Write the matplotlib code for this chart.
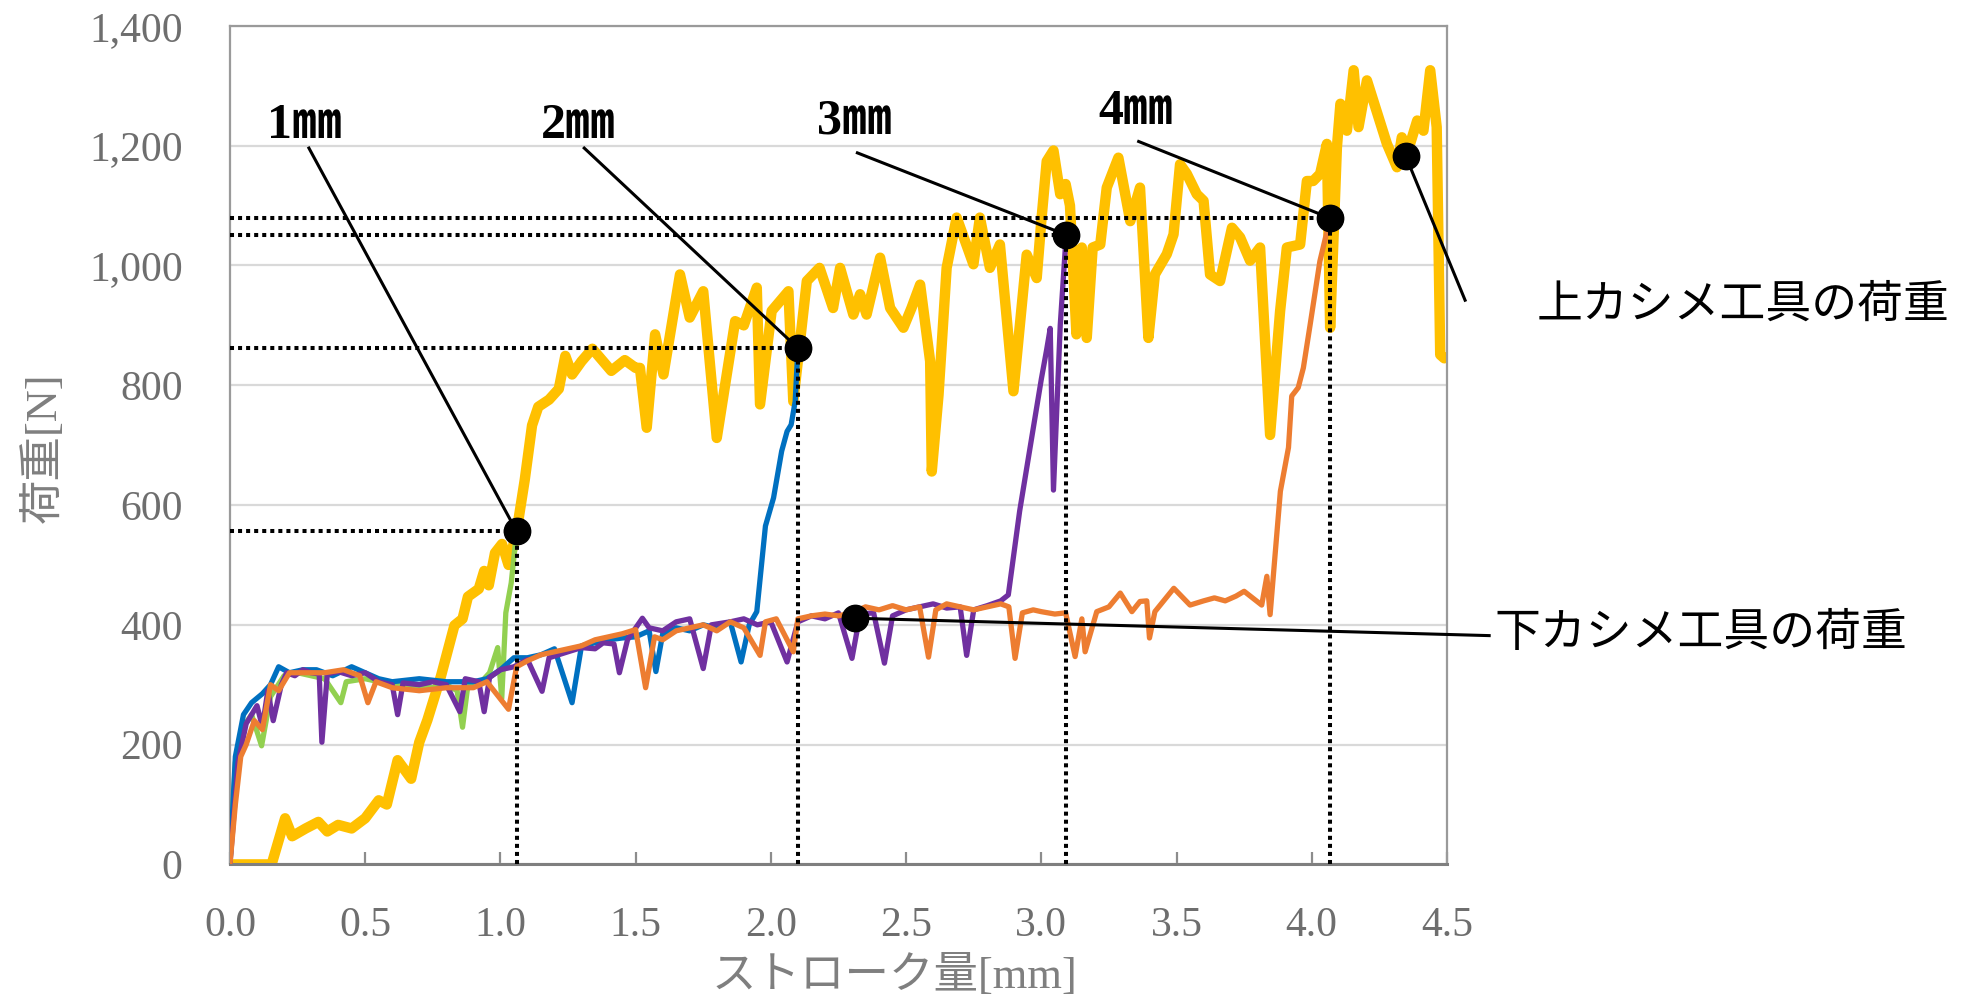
import matplotlib
matplotlib.use("Agg")
import matplotlib.pyplot as plt

plt.rcParams['font.family'] = ['Liberation Serif', 'Noto Sans CJK JP']

# ---------------- data ----------------
# upper crimping tool load (gold)
upper_x = [0, 0.05, 0.154, 0.204, 0.23, 0.28, 0.327, 0.36, 0.40, 0.45, 0.50, 0.55, 0.58, 0.62, 0.67,
           0.70, 0.73, 0.78, 0.83, 0.86, 0.88, 0.92, 0.94, 0.957, 0.98, 1.006, 1.03, 1.06, 1.09, 1.117,
           1.14, 1.18, 1.216, 1.24, 1.265, 1.30, 1.34, 1.41, 1.46, 1.50, 1.516, 1.541, 1.572, 1.603,
           1.664, 1.70, 1.75, 1.80, 1.868, 1.90, 1.948, 1.96, 2.003, 2.065, 2.083, 2.133, 2.18, 2.23,
           2.256, 2.305, 2.33, 2.354, 2.404, 2.441, 2.49, 2.52, 2.552, 2.589, 2.595, 2.62, 2.65, 2.687,
           2.749, 2.773, 2.81, 2.847, 2.897, 2.946, 2.983, 3.00, 3.02, 3.045, 3.07, 3.09, 3.106, 3.13,
           3.15, 3.168, 3.19, 3.218, 3.242, 3.285, 3.329, 3.365, 3.396, 3.42, 3.464, 3.489, 3.513,
           3.538, 3.575, 3.60, 3.624, 3.661, 3.705, 3.735, 3.772, 3.809, 3.846, 3.883, 3.908, 3.957,
           3.982, 4.005, 4.031, 4.056, 4.068, 4.093, 4.106, 4.13, 4.155, 4.173, 4.204, 4.278, 4.315,
           4.333, 4.352, 4.39, 4.413, 4.438, 4.462, 4.475, 4.49]
upper_y = [0, 0, 0, 77, 47, 60, 71, 55, 66, 60, 77, 107, 100, 174, 143,
           204, 241, 314, 399, 410, 447, 460, 490, 466, 520, 535, 500, 556, 642, 733,
           764, 776, 794, 849, 818, 840, 861, 824, 842, 829, 829, 729, 885, 818,
           985, 913, 957, 712, 907, 900, 963, 768, 924, 957, 773, 974, 996, 929,
           996, 918, 952, 918, 1013, 929, 896, 929, 968, 840, 656, 784, 996, 1080,
           1002, 1080, 996, 1035, 790, 1018, 979, 1074, 1174, 1192, 1119, 1136, 1100, 885,
           1030, 879, 1030, 1035, 1130, 1180, 1074, 1130, 879, 985, 1019, 1052, 1169,
           1153, 1119, 1108, 985, 974, 1063, 1047, 1008, 1030, 717, 924, 1030, 1035,
           1141, 1141, 1153, 1203, 896, 1197, 1270, 1225, 1326, 1231, 1309, 1203, 1164,
           1214, 1186, 1242, 1225, 1326, 1231, 851, 845]

# lower crimping tool load, 1 mm test (green)
green_x = [0, 0.02, 0.05, 0.08, 0.117, 0.15, 0.20, 0.25, 0.30, 0.35, 0.41, 0.43, 0.50, 0.60, 0.70,
           0.75, 0.80, 0.84, 0.86, 0.88, 0.93, 0.96, 0.99, 1.005, 1.02, 1.04, 1.06]
green_y = [0, 170, 230, 250, 198, 280, 315, 320, 315, 310, 270, 305, 310, 300, 298,
           295, 300, 290, 229, 300, 305, 320, 362, 277, 420, 470, 556]

# 2 mm test (blue)
blue_x = [0, 0.02, 0.05, 0.08, 0.12, 0.15, 0.18, 0.22, 0.27, 0.32, 0.38, 0.45, 0.50, 0.55, 0.60,
          0.70, 0.80, 0.90, 0.95, 1.00, 1.05, 1.10, 1.15, 1.20, 1.265, 1.30, 1.35, 1.40, 1.45, 1.50,
          1.55, 1.575, 1.60, 1.65, 1.70, 1.75, 1.80, 1.85, 1.89, 1.92, 1.948, 1.98, 2.01, 2.04,
          2.06, 2.075, 2.09, 2.10]
blue_y = [0, 180, 250, 270, 285, 300, 330, 320, 325, 325, 315, 330, 320, 310, 305,
          310, 305, 305, 310, 325, 345, 345, 350, 360, 270, 365, 370, 375, 378, 380,
          390, 322, 385, 395, 390, 400, 395, 405, 338, 400, 422, 565, 612, 690,
          723, 734, 773, 862]

# 3 mm test (purple)
purple_x = [0, 0.03, 0.06, 0.08, 0.10, 0.12, 0.14, 0.16, 0.19, 0.21, 0.24, 0.27, 0.30, 0.33, 0.34,
            0.36, 0.40, 0.45, 0.50, 0.55, 0.60, 0.62, 0.64, 0.70, 0.75, 0.80, 0.85, 0.87, 0.92,
            0.94, 0.96, 1.00, 1.05, 1.10, 1.154, 1.18, 1.25, 1.30, 1.35, 1.38, 1.42, 1.44, 1.47,
            1.525, 1.55, 1.60, 1.65, 1.70, 1.75, 1.78, 1.85, 1.90, 1.95, 2.00, 2.06, 2.10, 2.15,
            2.20, 2.25, 2.30, 2.33, 2.38, 2.42, 2.45, 2.50, 2.55, 2.60, 2.65, 2.70, 2.724, 2.75,
            2.80, 2.85, 2.878, 2.92, 2.96, 3.00, 3.02, 3.033, 3.045, 3.07, 3.092]
purple_y = [0, 170, 235, 250, 265, 230, 290, 240, 300, 320, 315, 325, 320, 318, 204,
            318, 322, 315, 320, 305, 300, 250, 303, 300, 305, 300, 255, 310, 305,
            255, 312, 325, 330, 342, 289, 345, 355, 362, 360, 370, 368, 320, 375,
            411, 395, 390, 405, 410, 327, 400, 405, 410, 400, 405, 338, 405, 415,
            410, 420, 344, 418, 420, 336, 415, 425, 430, 435, 428, 430, 349, 425,
            432, 440, 450, 590, 700, 810, 860, 895, 625, 900, 1051]

# 4 mm test (orange)
orange_x = [0, 0.02, 0.04, 0.06, 0.09, 0.12, 0.15, 0.18, 0.22, 0.25, 0.30, 0.35, 0.42, 0.48, 0.51,
            0.54, 0.60, 0.70, 0.80, 0.90, 0.95, 1.03, 1.06, 1.10, 1.15, 1.20, 1.30, 1.35, 1.40,
            1.45, 1.50, 1.537, 1.57, 1.60, 1.65, 1.70, 1.75, 1.80, 1.85, 1.90, 1.96, 1.98, 2.02,
            2.083, 2.10, 2.15, 2.20, 2.25, 2.30, 2.35, 2.40, 2.45, 2.50, 2.55, 2.583, 2.61, 2.65,
            2.70, 2.75, 2.80, 2.85, 2.88, 2.903, 2.93, 2.97, 3.00, 3.05, 3.09, 3.125, 3.15, 3.162,
            3.205, 3.25, 3.292, 3.335, 3.365, 3.39, 3.40, 3.42, 3.49, 3.55, 3.60, 3.64, 3.68, 3.72,
            3.75, 3.815, 3.834, 3.846, 3.884, 3.914, 3.926, 3.95, 3.969, 3.994, 4.03, 4.068]
orange_y = [0, 100, 180, 200, 240, 225, 300, 290, 320, 320, 320, 320, 325, 315, 270,
            305, 295, 290, 295, 295, 305, 259, 330, 340, 350, 355, 365, 375, 380,
            385, 392, 295, 380, 375, 390, 395, 400, 390, 405, 395, 349, 405, 410,
            355, 410, 415, 418, 415, 420, 430, 425, 432, 425, 430, 346, 425, 435,
            430, 425, 430, 435, 430, 344, 420, 425, 422, 418, 420, 347, 410, 355,
            422, 430, 453, 422, 439, 440, 378, 422, 461, 433, 440, 445, 440, 448,
            456, 433, 481, 417, 623, 696, 782, 796, 829, 901, 1007, 1079]

# marked points (stroke, load) for 1-4 mm
mark_x = [1.06, 2.10, 3.092, 4.068]
mark_y = [556, 862, 1051, 1079]
mark_labels = ["1㎜", "2㎜", "3㎜", "4㎜"]
label_x = [0.277, 1.29, 2.31, 3.35]
label_y = [1233, 1233, 1241, 1256]
leader_x = [0.292, 1.31, 2.32, 3.36]
leader_y = [1196, 1196, 1188, 1207]

upper_dot = (4.348, 1182)
upper_end = (4.567, 942)
lower_dot = (2.312, 411)
lower_end = (4.656, 382)

x_ticks = [0.0, 0.5, 1.0, 1.5, 2.0, 2.5, 3.0, 3.5, 4.0, 4.5]
y_ticks = [0, 200, 400, 600, 800, 1000, 1200, 1400]

# ---------------- figure ----------------
fig = plt.figure(figsize=(19.62, 10), dpi=100)
ax = fig.add_axes([0.1172, 0.1356, 0.6203, 0.8385])
ax.set_xlim(0, 4.5)
ax.set_ylim(0, 1400)

ax.set_yticks(y_ticks)
ax.set_yticklabels([f"{v:,}" for v in y_ticks])
ax.set_xticks(x_ticks)
ax.set_xticklabels([f"{v:.1f}" for v in x_ticks])

tick_color = '#6E6E6E'
ax.tick_params(axis='y', length=0, pad=34, labelsize=30, labelcolor=tick_color)
ax.tick_params(axis='x', direction='in', length=9, width=1.6, color='#8C8C8C',
               pad=30, labelsize=30, labelcolor=tick_color)

ax.grid(axis='y', color='#D9D9D9', linewidth=1.6)
ax.set_axisbelow(True)
for side in ['top', 'right', 'left']:
    ax.spines[side].set_color('#9A9A9A')
    ax.spines[side].set_linewidth(1.6)
ax.spines['bottom'].set_color('#7F7F7F')
ax.spines['bottom'].set_linewidth(2.2)

# series
ax.plot(upper_x, upper_y, color='#FFC000', lw=7.5, solid_joinstyle='round',
        solid_capstyle='round', zorder=2)
ax.plot(green_x, green_y, color='#92D050', lw=3.8, solid_joinstyle='round', zorder=3)
ax.plot(blue_x, blue_y, color='#0070C0', lw=3.8, solid_joinstyle='round', zorder=3)
ax.plot(purple_x, purple_y, color='#7030A0', lw=3.8, solid_joinstyle='round', zorder=3)
ax.plot(orange_x, orange_y, color='#ED7D31', lw=3.8, solid_joinstyle='round', zorder=4)

# dotted guides, dots, leaders and labels
for mx, my, lab, lx, ly, sx, sy in zip(mark_x, mark_y, mark_labels, label_x, label_y,
                                        leader_x, leader_y):
    ax.plot([0, mx], [my, my], color='black', lw=2.9, linestyle=(0, (1, 1)), zorder=5)
    ax.plot([mx, mx], [0, my], color='black', lw=2.9, linestyle=(0, (1, 1)), zorder=5)
    ax.plot([sx, mx], [sy, my], color='black', lw=2.2, zorder=6)
    ax.plot([mx], [my], 'o', color='black', ms=19, zorder=7)
    ax.text(lx, ly, lab, ha='center', va='center', fontsize=36, fontweight='bold',
            color='black', family=['Liberation Serif', 'Noto Sans CJK JP'])

ax.plot([upper_dot[0], upper_end[0]], [upper_dot[1], upper_end[1]], color='black', lw=2.2,
        zorder=6, clip_on=False)
ax.plot([upper_dot[0]], [upper_dot[1]], 'o', color='black', ms=19, zorder=7, clip_on=False)
ax.plot([lower_dot[0], lower_end[0]], [lower_dot[1], lower_end[1]], color='black', lw=2.2,
        zorder=6, clip_on=False)
ax.plot([lower_dot[0]], [lower_dot[1]], 'o', color='black', ms=19, zorder=7, clip_on=False)

fig.text(0.783, 0.696, "上カシメ工具の荷重", ha='left', va='center', fontsize=33,
         color='black', family=['Noto Sans CJK JP'])
fig.text(0.7615, 0.367, "下カシメ工具の荷重", ha='left', va='center', fontsize=33,
         color='black', family=['Noto Sans CJK JP'])

# axis labels
fig.text(0.456, 0.024, "ストローク量[mm]", ha='center', va='center', fontsize=32,
         color='#7F7F7F', family=['Liberation Serif', 'Noto Sans CJK JP'])
fig.text(0.022, 0.552, "荷重[N]", ha='center', va='center', fontsize=32, rotation=90,
         color='#7F7F7F', family=['Liberation Serif', 'Noto Sans CJK JP'])

fig.savefig("out.png", dpi=100, facecolor='white')
